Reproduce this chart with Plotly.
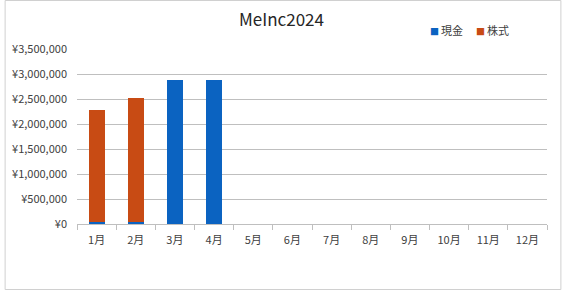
import plotly.graph_objects as go

months = ["1月", "2月", "3月", "4月", "5月", "6月", "7月", "8月", "9月", "10月", "11月", "12月"]
cash = [40000, 40000, 2880000, 2880000, None, None, None, None, None, None, None, None]
stock = [2240000, 2480000, None, None, None, None, None, None, None, None, None, None]
y_ticks = [0, 500000, 1000000, 1500000, 2000000, 2500000, 3000000, 3500000]
y_labels = ["¥{:,}".format(v) for v in y_ticks]
series_names = ["現金", "株式"]
colors = ["#0B63C1", "#C84B14"]

W, H = 563, 291
L, R, T, B = 73, 16, 49, 67
pw, ph = W - L - R, H - T - B

font = "Noto Sans CJK JP, Noto Sans, sans-serif"

fig = go.Figure()
fig.add_trace(go.Bar(x=months, y=cash, name=series_names[0], marker_color=colors[0], marker_line_width=0))
fig.add_trace(go.Bar(x=months, y=stock, name=series_names[1], marker_color=colors[1], marker_line_width=0))

fig.update_layout(
    width=W, height=H,
    margin=dict(l=L, r=R, t=T, b=B),
    barmode="stack",
    bargap=0.59,
    plot_bgcolor="white", paper_bgcolor="white",
    font=dict(family=font, size=11, color="#404040"),
    title=dict(text="MeInc2024", xref="container", x=0.5, xanchor="center",
               yref="container", y=1 - 20 / H, yanchor="middle",
               font=dict(size=17, color="#262626", family=font)),
    showlegend=False,
)
# legend drawn as annotations (small square markers like the reference)
leg_x = [427, 473]
for nm, col, lx in zip(series_names, colors, leg_x):
    fig.add_annotation(
        xref="paper", yref="paper", x=(lx - L) / pw, y=(224 - 30) / ph,
        xanchor="left", yanchor="middle", showarrow=False,
        text="<span style='color:%s;font-size:9px'>■ </span>%s" % (col, nm),
        font=dict(size=11, color="#404040", family=font),
    )
fig.update_xaxes(
    showgrid=False, showline=True, linecolor="#BFBFBF", linewidth=1,
    ticks="outside", tickson="boundaries", ticklen=5, tickcolor="#BFBFBF",
    ticklabelstandoff=6, tickfont=dict(size=11, color="#404040"),
)
fig.update_yaxes(
    range=[0, 3500000], tickvals=y_ticks, ticktext=y_labels,
    showgrid=True, gridcolor="#BFBFBF", gridwidth=1, zeroline=False,
    showline=False, ticks="", ticklabelstandoff=9,
    tickfont=dict(size=11, color="#404040"),
)
fig.add_shape(type="rect", xref="paper", yref="paper",
              x0=(0.5 - L) / pw, x1=(561 - L) / pw,
              y0=(224 - 289.5) / ph, y1=(224 - 0.5) / ph,
              line=dict(color="#D0D0D0", width=1), fillcolor="rgba(0,0,0,0)", layer="below")

fig.write_html("out.html")
